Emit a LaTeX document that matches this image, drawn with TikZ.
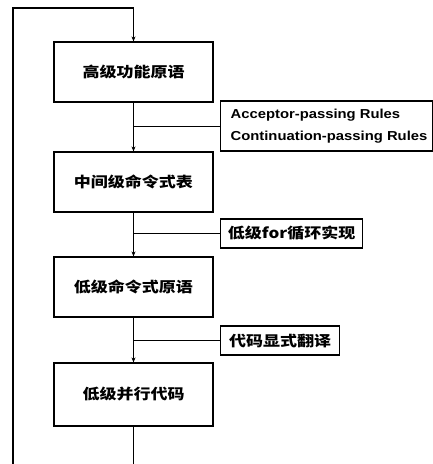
\documentclass[tikz,border=0pt]{standalone}
\usepackage{fontspec}
\usepackage{graphicx}
\setmainfont{Liberation Sans}
\newfontfamily\cjk{Noto Sans CJK SC}
\usetikzlibrary{arrows.meta}
\newcommand{\squat}[1]{\scalebox{1}[0.85]{#1}}
\begin{document}
\begin{tikzpicture}[x=1pt,y=-1pt,
  stagebox/.style={draw,line width=1.2pt,minimum width=159pt,minimum height=60pt,inner sep=0pt,font=\cjk\bfseries\fontsize{17}{19}\selectfont},
  rulebox/.style={draw,line width=1.2pt,inner sep=0pt,anchor=west,font=\cjk\bfseries\fontsize{17}{19}\selectfont},
  flow/.style={line width=1.5pt},
  arr/.style={flow,-{Stealth[length=5pt,width=4pt]}},
  tap/.style={line width=1pt}]
\useasboundingbox (0,0) rectangle (432,464);
\node[stagebox] (b1) at (133.5,72) {\squat{高级功能原语}};
\node[stagebox] (b2) at (133.5,182) {\squat{中间级命令式表}};
\node[stagebox] (b3) at (133.5,287) {\squat{低级命令式原语}};
\node[stagebox,minimum height=63pt] (b4) at (133.5,394.5) {\squat{低级并行代码}};
\node[rulebox,minimum height=50pt,font=\bfseries\fontsize{13}{16}\selectfont,inner xsep=5pt] (r1) at (220,126) {\hspace*{5pt}\scalebox{1.14}[1]{\begin{tabular}{@{}l@{}}Acceptor-passing Rules\\[6pt]Continuation-passing Rules\end{tabular}}};
\node[rulebox,minimum width=142pt,minimum height=29pt] (r2) at (220,233.5) {\squat{低级for循环实现}};
\node[rulebox,minimum width=119pt,minimum height=29pt] (r3) at (220,340.5) {\squat{代码显式翻译}};
\coordinate (tl) at (13,8);
\coordinate (bl) at (13,464);
\coordinate (tm) at (133.5,8);
\coordinate (bm) at (133.5,464);
\draw[line width=2pt] (bl) -- (tl) -- (tm);
\draw[arr] (tm) -- (b1.north);
\draw[arr] (b1.south) -- (b2.north);
\draw[arr] (b2.south) -- (b3.north);
\draw[arr] (b3.south) -- (b4.north);
\draw[flow] (b4.south) -- (bm);
\coordinate (j1) at (b1.south |- r1.west);
\coordinate (j2) at (b2.south |- r2.west);
\coordinate (j3) at (b3.south |- r3.west);
\draw[tap] (j1) -- (r1.west);
\draw[flow] (j2) -- (r2.west);
\draw[flow] (j3) -- (r3.west);
\end{tikzpicture}
\end{document}
